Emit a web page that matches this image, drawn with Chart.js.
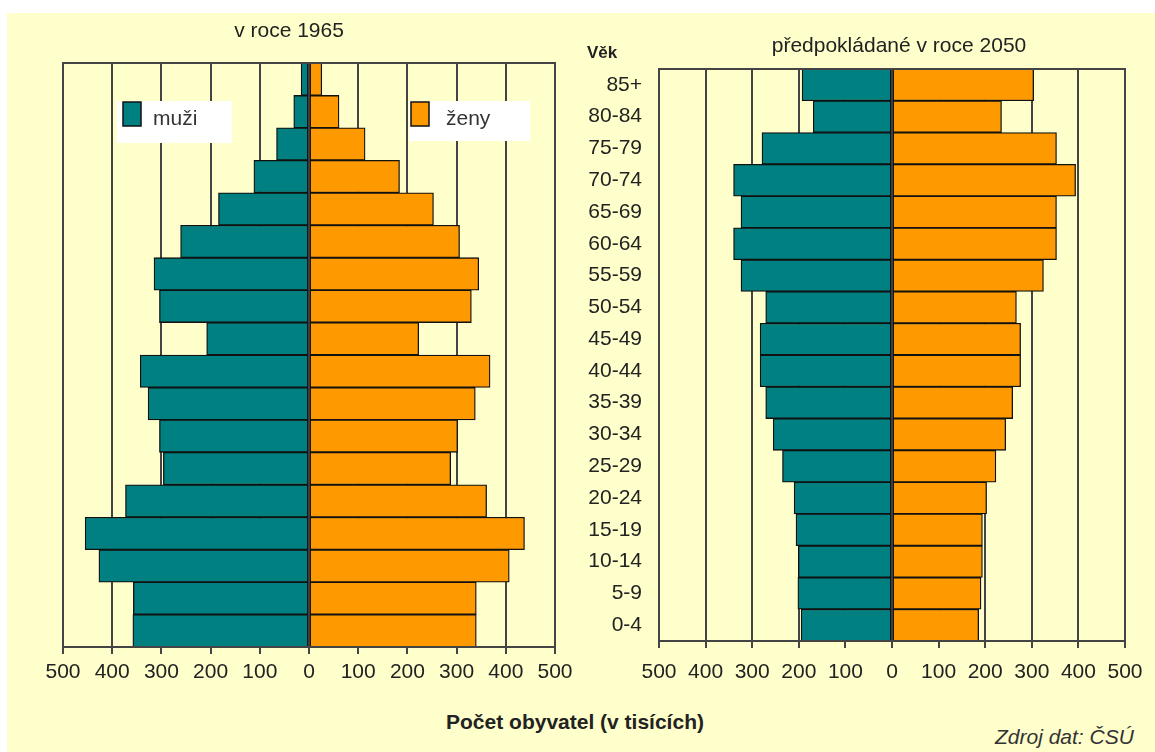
<!DOCTYPE html>
<html lang="cs">
<head>
<meta charset="utf-8">
<title>Věková struktura obyvatelstva</title>
<script src="https://cdn.jsdelivr.net/npm/chart.js@4.4.1/dist/chart.umd.min.js"></script>
<style>
  html, body { margin: 0; padding: 0; background: #fff; }
  body { width: 1155px; height: 752px; position: relative; overflow: hidden;
         font-family: "Liberation Sans", Arial, sans-serif; color: #222; }
  #bg { position: absolute; left: 7px; top: 13px; right: 0; bottom: 0; background: #FFFFCC; }
  canvas { position: absolute; top: 0; }
  .t { position: absolute; white-space: nowrap; font-size: 21px; line-height: 21px; }
</style>
</head>
<body>
<div id="bg"></div>
<canvas id="c1965" width="600" height="700" style="left:0"></canvas>
<canvas id="c2050" width="595" height="700" style="left:560px"></canvas>

<div class="t" style="left:189px;width:200px;text-align:center;top:19px">v roce 1965</div>
<div class="t" style="left:749px;width:300px;text-align:center;top:34px">předpokládané v roce 2050</div>
<div class="t" style="left:587px;top:44px;font-size:17px;line-height:17px;font-weight:bold">Věk</div>
<div class="t" style="left:375px;width:400px;text-align:center;top:711px;font-weight:bold">Počet obyvatel (v tisících)</div>
<div class="t" style="left:995px;top:726px;font-style:italic;color:#333">Zdroj dat: ČSÚ</div>

<script>
// Age groups, youngest first (drawn bottom to top)
const ages = ['0-4', '5-9', '10-14', '15-19', '20-24', '25-29', '30-34', '35-39', '40-44',
              '45-49', '50-54', '55-59', '60-64', '65-69', '70-74', '75-79', '80-84', '85+'];

// Population in thousands, 1965
const men1965   = [358, 357, 427, 455, 373, 296, 304, 327, 343, 208, 304, 315, 261, 184, 112, 66, 31, 16];
const women1965 = [340, 340, 407, 438, 361, 288, 302, 338, 368, 223, 330, 345, 306, 253, 184, 114, 61, 26];

// Projected population in thousands, 2050
const men2050   = [195, 202, 201, 206, 210, 235, 255, 271, 283, 283, 271, 324, 340, 324, 340, 279, 169, 193];
const women2050 = [186, 191, 194, 194, 203, 223, 244, 259, 276, 276, 267, 325, 353, 353, 394, 353, 235, 304];

// Horizontal axis ticks (thousands, both directions)
const axisMin = -500, axisMax = 500, axisStep = 100;

const seriesNames = { men: 'muži', women: 'ženy' };
const TEAL = '#008080', ORANGE = '#FF9900';
const FONT = '"Liberation Sans", Arial, sans-serif';
const LINE = '#444';

// Outline around the plot area
const framePlugin = {
  id: 'frame',
  afterDraw(chart) {
    const { ctx, chartArea: a } = chart;
    ctx.save();
    ctx.strokeStyle = LINE;
    ctx.lineWidth = 2;
    ctx.strokeRect(a.left, a.top, a.right - a.left, a.bottom - a.top);
    ctx.restore();
  }
};

// Legend boxes placed inside the plot area, on a white backing
const innerLegendPlugin = {
  id: 'innerLegend',
  beforeDatasetsDraw(chart, args, opts) {
    const { ctx, chartArea: a } = chart;
    ctx.save();
    opts.items.forEach(it => {
      ctx.fillStyle = '#fff';
      ctx.fillRect(a.left + it.bg[0], a.top + it.bg[1], it.bg[2], it.bg[3]);
      ctx.fillStyle = it.color;
      ctx.fillRect(a.left + it.box[0], a.top + it.box[1], 18, 24);
      ctx.strokeStyle = '#111';
      ctx.lineWidth = 1.5;
      ctx.strokeRect(a.left + it.box[0], a.top + it.box[1], 18, 24);
      ctx.fillStyle = '#333';
      ctx.font = '21px ' + FONT;
      ctx.textBaseline = 'alphabetic';
      ctx.fillText(it.text, a.left + it.textAt[0], a.top + it.textAt[1]);
    });
    ctx.restore();
  }
};

function pyramid(canvasId, men, women, opt) {
  return new Chart(document.getElementById(canvasId), {
    type: 'bar',
    data: {
      labels: ages,
      datasets: [
        { label: seriesNames.men, data: men.map(v => -v), backgroundColor: TEAL },
        { label: seriesNames.women, data: women, backgroundColor: ORANGE }
      ]
    },
    options: {
      indexAxis: 'y',
      responsive: false,
      animation: false,
      events: [],
      datasets: {
        bar: {
          barPercentage: 1, categoryPercentage: 1,
          borderColor: '#111', borderWidth: 1.3, borderSkipped: false
        }
      },
      layout: { padding: opt.padding },
      plugins: {
        legend: { display: false },
        tooltip: { enabled: false },
        innerLegend: opt.legend || { items: [] }
      },
      scales: {
        x: {
          type: 'linear', stacked: true,
          min: axisMin, max: axisMax,
          ticks: {
            stepSize: axisStep, autoSkip: false, maxRotation: 0,
            callback: v => Math.abs(v),
            font: { family: FONT, size: 21 }, color: '#222',
            padding: opt.tickPad
          },
          grid: { color: LINE, lineWidth: 2, tickLength: 7 },
          border: { color: LINE, width: 2 },
          afterFit(s) { s.height = opt.xHeight; }
        },
        y: {
          type: 'category', stacked: true, reverse: true,
          display: opt.showAges,
          grid: { display: false, drawTicks: false },
          border: { display: false },
          ticks: {
            font: { family: FONT, size: 21 }, color: '#222', padding: 17
          },
          afterFit(s) { if (opt.yWidth) s.width = opt.yWidth; }
        }
      }
    },
    plugins: [innerLegendPlugin, framePlugin]
  });
}

pyramid('c1965', men1965, women1965, {
  padding: { left: 63, top: 63, right: 45, bottom: 0 },
  xHeight: 53, tickPad: 6, showAges: false,
  legend: {
    items: [
      { text: seriesNames.men, color: TEAL, bg: [54, 38, 115, 42], box: [60, 39], textAt: [90, 62] },
      { text: seriesNames.women, color: ORANGE, bg: [346, 38, 121, 40], box: [348, 39], textAt: [383, 62] }
    ]
  }
});

pyramid('c2050', men2050, women2050, {
  padding: { left: 0, top: 69, right: 30, bottom: 0 },
  xHeight: 59, tickPad: 12, showAges: true, yWidth: 99
});
</script>
</body>
</html>
